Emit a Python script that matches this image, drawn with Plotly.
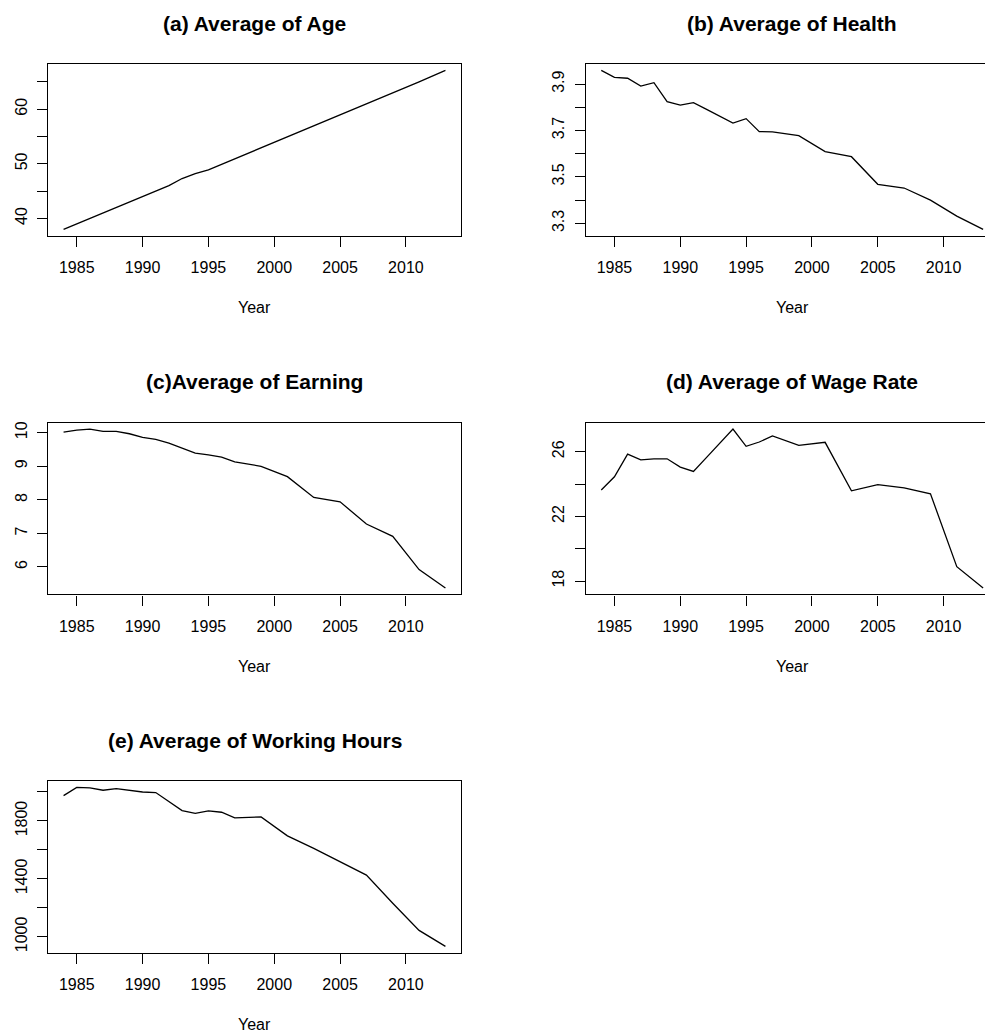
import plotly.graph_objects as go

# ---------------- data ----------------
years = [1984, 1985, 1986, 1987, 1988, 1989, 1990, 1991, 1992, 1993, 1994,
         1995, 1996, 1997, 1999, 2001, 2003, 2005, 2007, 2009, 2011, 2013]

age = [38.0, 39.0, 40.0, 41.1, 42.1, 43.1, 44.1, 45.0, 46.0, 47.3, 48.2,
       48.9, 49.9, 50.9, 53.0, 55.0, 57.0, 59.0, 61.0, 63.0, 65.0, 67.1]

health = [3.959, 3.929, 3.925, 3.891, 3.906, 3.824, 3.809, 3.820, 3.791, 3.761, 3.732,
          3.751, 3.695, 3.694, 3.678, 3.609, 3.587, 3.468, 3.452, 3.400, 3.331, 3.274]

earning = [10.02, 10.08, 10.11, 10.04, 10.04, 9.97, 9.86, 9.80, 9.69, 9.55, 9.39,
           9.34, 9.27, 9.13, 9.00, 8.69, 8.07, 7.94, 7.28, 6.91, 5.92, 5.37]

wage = [23.63, 24.45, 25.85, 25.50, 25.56, 25.56, 25.05, 24.78, 25.65, 26.53, 27.40,
        26.33, 26.60, 26.97, 26.39, 26.58, 23.58, 23.96, 23.77, 23.40, 18.89, 17.57]

hours = [1975, 2032, 2028, 2012, 2023, 2010, 2000, 1996, 1934, 1872, 1853,
         1869, 1860, 1821, 1828, 1697, 1610, 1520, 1426, 1232, 1044, 934]

titles = ["(a) Average of Age", "(b) Average of Health", "(c)Average of Earning",
          "(d) Average of Wage Rate", "(e) Average of Working Hours"]

x_ticks = [1985, 1990, 1995, 2000, 2005, 2010]

y_ticks = [
    [40, 45, 50, 55, 60, 65],
    [3.3, 3.4, 3.5, 3.6, 3.7, 3.8, 3.9],
    [6, 7, 8, 9, 10],
    [18, 20, 22, 24, 26],
    [1000, 1200, 1400, 1600, 1800, 2000],
]
y_ticktext = [
    ["40", "", "50", "", "60", ""],
    ["3.3", "", "3.5", "", "3.7", "", "3.9"],
    ["6", "7", "8", "9", "10"],
    ["18", "", "22", "", "26"],
    ["1000", "", "1400", "", "1800", ""],
]

series = [age, health, earning, wage, hours]

# ---------------- layout geometry (pixels) ----------------
W, H = 985, 1032
col_left = [48.3, 586.0]        # box left edges
box_w = 412.4                   # full box width
row_top = [64.0, 422.7, 781.0]  # box top edges
box_h = 171.7
FONT = "Liberation Sans, Arial, Helvetica, sans-serif"
LW = 1.4

def pad_range(vals):
    lo, hi = min(vals), max(vals)
    d = (hi - lo) * 0.04
    return [lo - d, hi + d]

xr = pad_range(years)

fig = go.Figure()
annotations = []

for i, (vals, title) in enumerate(zip(series, titles)):
    col = i % 2
    row = i // 2
    n = "" if i == 0 else str(i + 1)
    x0 = col_left[col]
    x1_full = x0 + box_w
    x1 = min(x1_full, W)
    frac = (x1 - x0) / box_w
    xrange = [xr[0], xr[0] + (xr[1] - xr[0]) * frac]
    top = row_top[row]
    bot = top + box_h

    fig.add_trace(go.Scatter(
        x=years, y=vals, mode="lines",
        line=dict(color="black", width=1.3),
        xaxis="x" + n, yaxis="y" + n, showlegend=False,
        hoverinfo="x+y",
    ))

    fig.update_layout(**{
        "xaxis" + n: dict(
            domain=[x0 / W, x1 / W], range=xrange, anchor="y" + n,
            tickmode="array", tickvals=x_ticks,
            ticks="outside", ticklen=10, tickwidth=LW, tickcolor="black",
            showline=True, linecolor="black", linewidth=LW, mirror=True,
            showgrid=False, zeroline=False,
            tickfont=dict(family=FONT, size=16, color="black"),
            ticklabelstandoff=7,
        ),
        "yaxis" + n: dict(
            domain=[1 - bot / H, 1 - top / H], range=pad_range(vals), anchor="x" + n,
            tickmode="array", tickvals=y_ticks[i], ticktext=y_ticktext[i],
            tickangle=-90,
            ticks="outside", ticklen=10, tickwidth=LW, tickcolor="black",
            showline=True, linecolor="black", linewidth=LW,
            mirror=(x1_full <= W),
            showgrid=False, zeroline=False,
            tickfont=dict(family=FONT, size=16, color="black"),
            ticklabelstandoff=4,
        ),
    })

    cx = (x0 + x1_full) / 2
    annotations.append(dict(
        text="<b>" + title + "</b>", x=cx / W, y=1 - (top - 41) / H,
        xref="paper", yref="paper", xanchor="center", yanchor="middle",
        showarrow=False, font=dict(family=FONT, size=21, color="black"),
    ))
    annotations.append(dict(
        text="Year", x=cx / W, y=1 - (bot + 72) / H,
        xref="paper", yref="paper", xanchor="center", yanchor="middle",
        showarrow=False, font=dict(family=FONT, size=16, color="black"),
    ))

fig.update_layout(
    width=W, height=H,
    margin=dict(l=0, r=0, t=0, b=0),
    paper_bgcolor="white", plot_bgcolor="white",
    showlegend=False,
    annotations=annotations,
)

fig.write_html(
    "out.html",
    config={"displayModeBar": False},
    post_script="document.body.style.margin='0';document.body.style.overflow='hidden';",
)
